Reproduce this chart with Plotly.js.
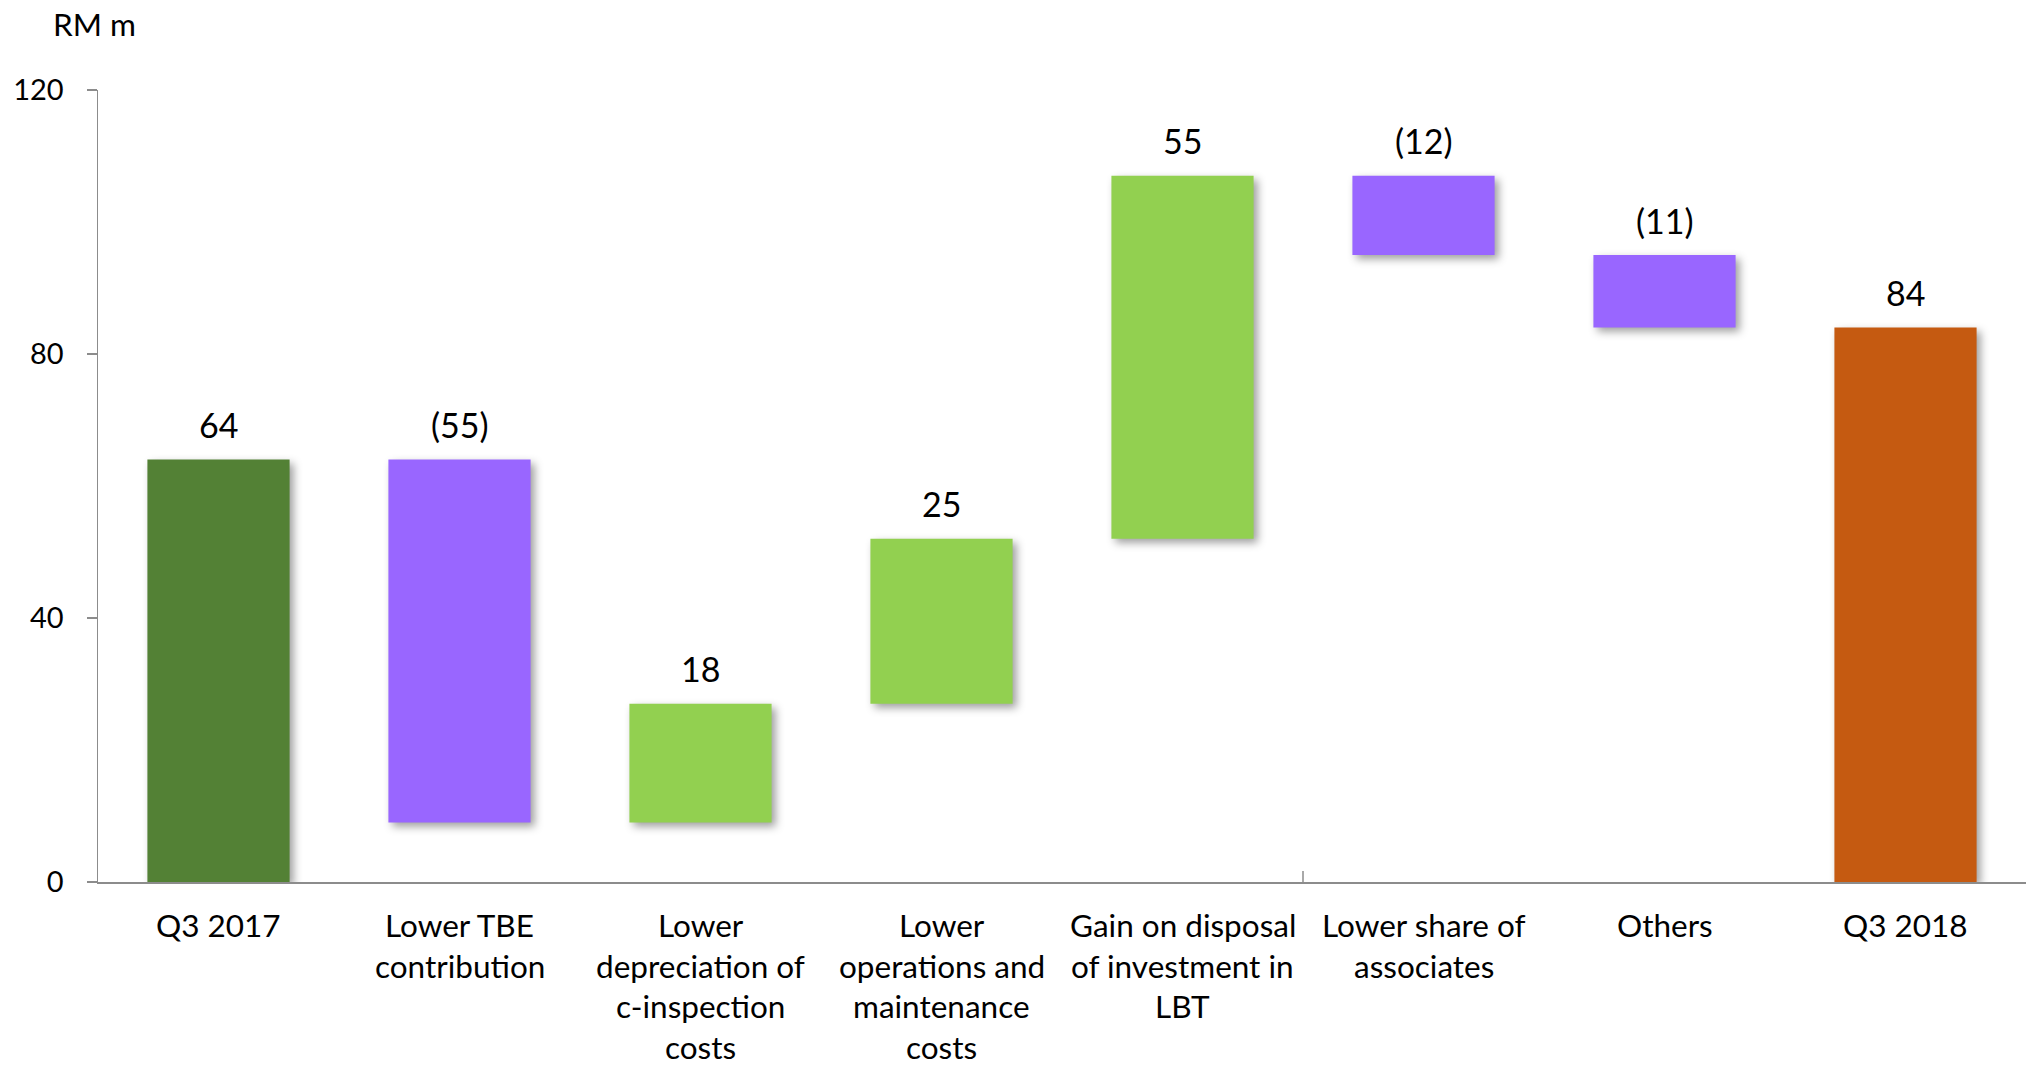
<!DOCTYPE html>
<html>
<head>
<meta charset="utf-8">
<script src="https://cdn.plot.ly/plotly-3.0.1.min.js"></script>
<style>
html,body{margin:0;padding:0;background:#ffffff;}
#chart{width:2031px;height:1067px;}
</style>
</head>
<body>
<div id="chart"></div>
<script>
// ---- data ----
const categoryLabels = [
  "Q3 2017",
  "Lower TBE<br>contribution",
  "Lower<br>depreciation of<br>c-inspection<br>costs",
  "Lower<br>operations and<br>maintenance<br>costs",
  "Gain on disposal<br>of investment in<br>LBT",
  "Lower share of<br>associates",
  "Others",
  "Q3 2018"
];
const values = [64, -55, 18, 25, 55, -12, -11, 84];
const measures = ["total", "relative", "relative", "relative", "relative", "relative", "relative", "total"];
const yTickValues = [0, 40, 80, 120];
const unitLabel = "RM m";

// ---- styles ----
const COLOR_START = "#538135";
const COLOR_END = "#C55A11";
const COLOR_UP = "#92D050";
const COLOR_DOWN = "#9966FF";
const FONT = "Lato, 'Open Sans', sans-serif";
const TICK_SIZE = 29;
const CAT_SIZE = 31.5;
const VAL_SIZE = 34;

// ---- build waterfall geometry from data ----
const xIdx = [], bases = [], heights = [], colors = [], tops = [], texts = [];
let running = 0;
values.forEach((v, i) => {
  xIdx.push(i);
  let lo, hi;
  if (measures[i] === "total") {
    lo = 0; hi = v; running = v;
    colors.push(i === 0 ? COLOR_START : COLOR_END);
    texts.push(String(v));
  } else {
    const s = running, e = running + v;
    lo = Math.min(s, e); hi = Math.max(s, e); running = e;
    colors.push(v >= 0 ? COLOR_UP : COLOR_DOWN);
    texts.push(v >= 0 ? String(v) : "(" + Math.abs(v) + ")");
  }
  bases.push(lo);
  heights.push(hi - lo);
  tops.push(hi);
});

const trace = {
  type: "bar",
  x: xIdx,
  y: heights,
  base: bases,
  width: 0.59,
  marker: { color: colors, line: { width: 0 } },
  hoverinfo: "none",
  showlegend: false
};

const annotations = [];
// value labels
tops.forEach((t, i) => {
  annotations.push({
    x: xIdx[i], y: t, xref: "x", yref: "y",
    text: texts[i], showarrow: false,
    xanchor: "center", yanchor: "middle", yshift: 35,
    font: { family: FONT, size: VAL_SIZE, color: "#000000" }
  });
});
// category labels, one annotation per line
categoryLabels.forEach((lab, i) => {
  lab.split("<br>").forEach((line, j) => {
    annotations.push({
      x: xIdx[i], y: 0, xref: "x", yref: "y",
      text: line, showarrow: false,
      xanchor: "center", yanchor: "middle", yshift: -(43 + j * 40.6),
      font: { family: FONT, size: CAT_SIZE, color: "#000000" }
    });
  });
});
// unit label
annotations.push({
  x: 0, y: 1, xref: "paper", yref: "paper",
  text: unitLabel, showarrow: false,
  xanchor: "left", yanchor: "middle", xshift: -47, yshift: 66,
  font: { family: FONT, size: CAT_SIZE, color: "#000000" }
});

const layout = {
  width: 2031, height: 1067,
  margin: { l: 98, r: 5, t: 90, b: 185, pad: 0 },
  paper_bgcolor: "#ffffff", plot_bgcolor: "#ffffff",
  bargap: 0.41,
  xaxis: {
    range: [-0.5, categoryLabels.length - 0.5],
    showticklabels: false, ticks: "", showgrid: false, zeroline: false,
    showline: true, linecolor: "#8c8c8c", linewidth: 1.5, fixedrange: true
  },
  yaxis: {
    range: [0, 120], tickvals: yTickValues, ticktext: yTickValues.map(String),
    ticks: "outside", ticklen: 10, tickwidth: 1.5, tickcolor: "#8c8c8c",
    ticklabelstandoff: 17,
    showline: true, linecolor: "#8c8c8c", linewidth: 1.5,
    showgrid: false, zeroline: false, fixedrange: true,
    tickfont: { family: FONT, size: TICK_SIZE, color: "#000000" }
  },
  shapes: [{
    type: "line", xref: "x", yref: "paper",
    x0: 4.5, x1: 4.5,
    ysizemode: "pixel", yanchor: 0, y0: 0, y1: 11,
    line: { color: "#8c8c8c", width: 1.5 }
  }],
  annotations: annotations,
  font: { family: FONT, size: TICK_SIZE, color: "#000000" }
};

Plotly.newPlot("chart", [trace], layout, { displayModeBar: false, staticPlot: true }).then(() => {
  document.querySelectorAll("#chart .barlayer .point path").forEach(p => {
    p.style.filter = "drop-shadow(4px 4px 4px rgba(0,0,0,0.38))";
  });
});
</script>
</body>
</html>
